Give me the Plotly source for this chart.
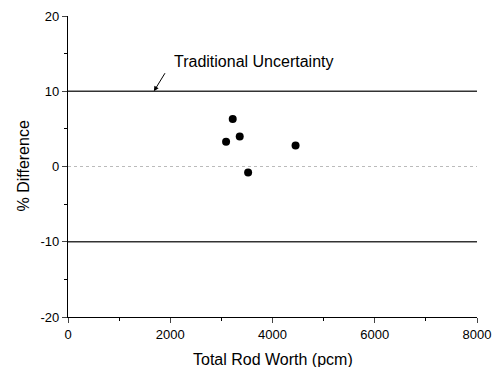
import plotly.graph_objects as go

rod_worth = [3092, 3222, 3359, 3523, 4451]
pct_diff = [3.3, 6.3, 4.0, -0.8, 2.8]
x_ticks = [0, 2000, 4000, 6000, 8000]
x_tick_labels = ["0", "2000", "4000", "6000", "8000"]
y_ticks = [-20, -10, 0, 10, 20]
y_tick_labels = ["-20", "-10", "0", "10", "20"]
uncertainty = [10, -10]

fig = go.Figure()
fig.add_trace(go.Scatter(x=rod_worth, y=pct_diff, mode="markers",
                         marker=dict(color="black", size=8), showlegend=False))

for u in uncertainty:
    fig.add_shape(type="line", x0=0, x1=8000, y0=u, y1=u, xref="x", yref="y",
                  line=dict(color="#333333", width=1.3))
fig.add_shape(type="line", x0=0, x1=8000, y0=0, y1=0, xref="x", yref="y",
              line=dict(color="#bbbbbb", width=1, dash="dot"))

fig.add_annotation(x=1680, y=10, ax=1915, ay=12.6, xref="x", yref="y", axref="x", ayref="y",
                   text="", showarrow=True, arrowhead=2, arrowsize=1, arrowwidth=1, arrowcolor="black")
fig.add_annotation(x=2040, y=14.0, xref="x", yref="y", text="Traditional Uncertainty",
                   showarrow=False, xanchor="left", yanchor="middle",
                   font=dict(size=16, color="black"))

fig.add_annotation(x=0.5, y=0, xref="paper", yref="paper", text="Total Rod Worth (pcm)",
                   showarrow=False, xanchor="center", yanchor="top", yshift=-32,
                   font=dict(size=16, color="black"))
fig.add_annotation(x=0, y=0.5, xref="paper", yref="paper", text="% Difference",
                   showarrow=False, xanchor="center", yanchor="middle", xshift=-45,
                   textangle=-90, font=dict(size=16, color="black"))

fig.update_layout(
    width=496, height=367,
    margin=dict(l=68, r=19, t=16, b=50),
    plot_bgcolor="white", paper_bgcolor="white",
    font=dict(family="Liberation Sans, Arial, sans-serif", color="black", size=13),
)
fig.update_xaxes(range=[0, 8000], tickvals=x_ticks, ticktext=x_tick_labels,
                 ticks="outside", ticklen=5, tickwidth=1, automargin=False,
                 showline=True, linecolor="black", linewidth=1.3, showgrid=False, zeroline=False,
                 minor=dict(tickvals=[1000, 3000, 5000, 7000], ticks="outside", ticklen=3, tickcolor="black"),
                 tickfont=dict(size=13))
fig.update_yaxes(range=[-20, 20], tickvals=y_ticks, ticktext=y_tick_labels,
                 ticks="outside", ticklen=5, tickwidth=1, automargin=False,
                 showline=True, linecolor="black", linewidth=1.3, showgrid=False, zeroline=False,
                 minor=dict(tickvals=[-15, -5, 5, 15], ticks="outside", ticklen=3, tickcolor="black"),
                 tickfont=dict(size=13))

fig.write_html("out.html")
